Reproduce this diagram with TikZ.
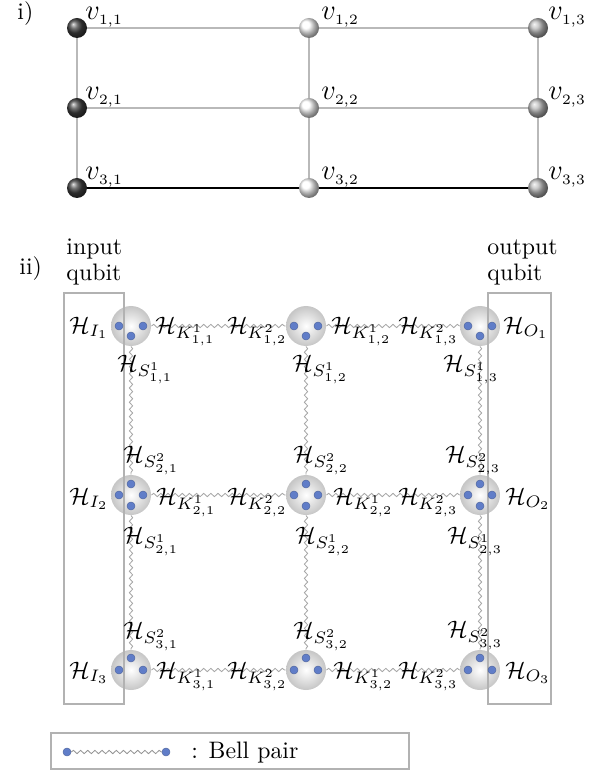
\documentclass[tikz,border=0pt]{standalone}
\usetikzlibrary{decorations.pathmorphing,backgrounds}
\definecolor{dotblue}{RGB}{96,125,200}
\begin{document}
\begin{tikzpicture}[x=0.42pt,y=-0.42pt,
  grid/.style={draw=gray!55,line width=0.5pt},
  vball/.style={circle,minimum size=8.4pt,inner sep=0pt,shading=ball},
  qball/.style={circle,minimum size=16.8pt,inner sep=0pt,shade,inner color=white,outer color=gray!45},
  bdot/.style={circle,fill=dotblue,draw=dotblue!75!black,line width=0.15pt,minimum size=3.4pt,inner sep=0pt},
  bell/.style={draw=gray!70,line width=0.35pt,decorate,decoration={snake,segment length=3pt,amplitude=0.7pt}},
  qbox/.style={draw=gray!60,line width=0.5pt},
  lab/.style={inner sep=0pt}]
\path[use as bounding box] (0,0) rectangle (588,775);

% ---------- part i ----------
\node[lab,anchor=base west] (ti) at (17,20) {i)};
\foreach \r/\y in {1/28,2/108,3/188}{
  \node[vball,ball color=black!75] (v\r1) at (77,\y) {};
  \node[vball,ball color=white] (v\r2) at (309,\y) {};
  \node[vball,ball color=gray!55] (v\r3) at (538,\y) {};
  \node[lab,anchor=base west,font=\large] (lv\r1) at (85,\y-8) {$v_{\scriptscriptstyle \r,1}$};
  \node[lab,anchor=base west,font=\large] (lv\r2) at (321,\y-8) {$v_{\scriptscriptstyle \r,2}$};
  \node[lab,anchor=base west,font=\large] (lv\r3) at (548,\y-8) {$v_{\scriptscriptstyle \r,3}$};
}
\begin{scope}[on background layer]
  \draw[grid] (v11)--(v12)--(v13) (v21)--(v22)--(v23)
              (v11)--(v21)--(v31) (v12)--(v22)--(v32) (v13)--(v23)--(v33);
  \draw[black,line width=0.5pt] (v31)--(v32)--(v33);
\end{scope}

% ---------- part ii ----------
\node[lab,anchor=base west] (tii) at (19,275) {ii)};
\node[lab,anchor=base west] (in1) at (66,255) {input};
\node[lab,anchor=base west] (in2) at (66,281) {qubit};
\node[lab,anchor=base west] (out1) at (487,255) {output};
\node[lab,anchor=base west] (out2) at (487,281) {qubit};

\foreach \r/\y in {1/326,2/495,3/670}
  \foreach \c/\x in {1/131,2/306,3/480}
    \node[qball] (q\r\c) at (\x,\y) {};

\begin{scope}[on background layer]
  \foreach \r in {1,2,3}{
    \draw[bell] (q\r1.east) -- (q\r2.west);
    \draw[bell] (q\r2.east) -- (q\r3.west);
  }
  \foreach \c in {1,2,3}{
    \draw[bell] (q1\c.south) -- (q2\c.north);
    \draw[bell] (q2\c.south) -- (q3\c.north);
  }
\end{scope}

\draw[qbox] (64,293) rectangle (124,704);
\draw[qbox] (488,293) rectangle (551,704);

\foreach \c/\x in {1/131,2/306,3/480}{
  \node[bdot] (d1\c-l) at (\x-12,326) {};
  \node[bdot] (d1\c-r) at (\x+12,326) {};
  \node[bdot] (d1\c-b) at (\x,336) {};
  \node[bdot] (d2\c-t) at (\x,484) {};
  \node[bdot] (d2\c-l) at (\x-12,495) {};
  \node[bdot] (d2\c-r) at (\x+12,495) {};
  \node[bdot] (d2\c-b) at (\x,506) {};
  \node[bdot] (d3\c-t) at (\x,658) {};
  \node[bdot] (d3\c-l) at (\x-12,670) {};
  \node[bdot] (d3\c-r) at (\x+12,670) {};
}

% row labels
\node[lab,anchor=base east] (hI1) at (109,333) {$\mathcal{H}_{I_1}$};
\node[lab,anchor=base west] (hK111) at (155,333) {$\mathcal{H}_{K^1_{1,1}}$};
\node[lab,anchor=base east] (hK212) at (288,333) {$\mathcal{H}_{K^2_{1,2}}$};
\node[lab,anchor=base west] (hK112) at (331,333) {$\mathcal{H}_{K^1_{1,2}}$};
\node[lab,anchor=base east] (hK213) at (459,333) {$\mathcal{H}_{K^2_{1,3}}$};
\node[lab,anchor=base west] (hO1) at (503,333) {$\mathcal{H}_{O_1}$};

\node[lab,anchor=base east] (hI2) at (109,504) {$\mathcal{H}_{I_2}$};
\node[lab,anchor=base west] (hK121) at (156,504) {$\mathcal{H}_{K^1_{2,1}}$};
\node[lab,anchor=base east] (hK222) at (288,504) {$\mathcal{H}_{K^2_{2,2}}$};
\node[lab,anchor=base west] (hK122) at (333,504) {$\mathcal{H}_{K^1_{2,2}}$};
\node[lab,anchor=base east] (hK223) at (459,504) {$\mathcal{H}_{K^2_{2,3}}$};
\node[lab,anchor=base west] (hO2) at (505,504) {$\mathcal{H}_{O_2}$};

\node[lab,anchor=base east] (hI3) at (109,678) {$\mathcal{H}_{I_3}$};
\node[lab,anchor=base west] (hK131) at (156,678) {$\mathcal{H}_{K^1_{3,1}}$};
\node[lab,anchor=base east] (hK232) at (288,678) {$\mathcal{H}_{K^2_{3,2}}$};
\node[lab,anchor=base west] (hK132) at (333,678) {$\mathcal{H}_{K^1_{3,2}}$};
\node[lab,anchor=base east] (hK233) at (459,678) {$\mathcal{H}_{K^2_{3,3}}$};
\node[lab,anchor=base west] (hO3) at (505,678) {$\mathcal{H}_{O_3}$};

% column labels
\node[lab,anchor=base west] (hS111) at (117,371) {$\mathcal{H}_{S^1_{1,1}}$};
\node[lab,anchor=base west] (hS112) at (292,371) {$\mathcal{H}_{S^1_{1,2}}$};
\node[lab,anchor=base west] (hS113) at (443,371) {$\mathcal{H}_{S^1_{1,3}}$};
\node[lab,anchor=base west] (hS221) at (123,462) {$\mathcal{H}_{S^2_{2,1}}$};
\node[lab,anchor=base west] (hS222) at (293,462) {$\mathcal{H}_{S^2_{2,2}}$};
\node[lab,anchor=base west] (hS223) at (445,462) {$\mathcal{H}_{S^2_{2,3}}$};
\node[lab,anchor=base west] (hS121) at (123,543) {$\mathcal{H}_{S^1_{2,1}}$};
\node[lab,anchor=base west] (hS122) at (295,543) {$\mathcal{H}_{S^1_{2,2}}$};
\node[lab,anchor=base west] (hS123) at (447,543) {$\mathcal{H}_{S^1_{2,3}}$};
\node[lab,anchor=base west] (hS231) at (123,638) {$\mathcal{H}_{S^2_{3,1}}$};
\node[lab,anchor=base west] (hS232) at (293,638) {$\mathcal{H}_{S^2_{3,2}}$};
\node[lab,anchor=base west] (hS233) at (447,637) {$\mathcal{H}_{S^2_{3,3}}$};

% ---------- legend ----------
\draw[qbox] (51,733) rectangle (409,769);
\node[bdot] (lg1) at (67,752) {};
\node[bdot] (lg2) at (166,752) {};
\begin{scope}[on background layer]
  \draw[bell,draw=gray!85] (lg1) -- (lg2);
\end{scope}
\node[lab,anchor=base west] (lgt) at (191,758) {: Bell pair};
\end{tikzpicture}
\end{document}
